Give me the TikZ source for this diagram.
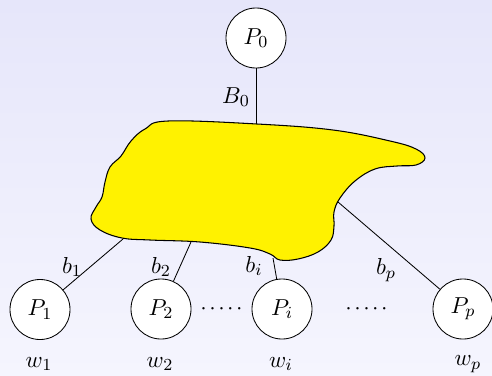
\documentclass[tikz,border=0pt]{standalone}
\definecolor{bgtop}{RGB}{230,230,250}
\definecolor{bgbot}{RGB}{245,245,254}
\begin{document}
\begin{tikzpicture}[x=0.016667cm,y=-0.016667cm,
  proc/.style={circle,draw=black,fill=white,minimum size=1cm,inner sep=0pt,font=\fontsize{11}{13}\selectfont},
  lab/.style={inner sep=0pt,font=\fontsize{11}{13}\selectfont},
  link/.style={draw=black,line width=0.4pt}]
\shade[top color=bgtop,bottom color=bgbot] (0,0) rectangle (492,375);
\useasboundingbox (0,0) rectangle (492,375);
% connectors (under the blob)
\coordinate (c0) at (256,126);
\coordinate (c1) at (123,239);
\coordinate (c2) at (191,242);
\coordinate (ci) at (273,258);
\coordinate (cp) at (338,202);
\node[proc] (P0) at (256,38) {$P_0$};
\node[proc] (P1) at (40,309.5) {$P_1$};
\node[proc] (P2) at (161,309) {$P_2$};
\node[proc] (Pi) at (282,309) {$P_i$};
\node[proc] (Pp) at (463,309) {$P_p$};
\draw[link] (P0) -- (c0);
\draw[link] (c1) -- (P1);
\draw[link] (c2) -- (P2);
\draw[link] (ci) -- (Pi);
\draw[link] (cp) -- (Pp);
% blob
\draw[fill=yellow,line width=0.5pt] plot[smooth cycle,tension=0.65] coordinates {
 (168,121) (257,124) (333,130) (390,141) (416,149) (425,158) (416,165) (397,166)
 (375,169) (355,181) (340,198) (334,212) (334,226) (331,240) (318,252) (298,259)
 (280,260) (270,254) (250,248) (200,242) (150,240) (122,238)
 (100,230) (91,219) (96,207) (102,197) (105,182) (110,167) (121,156) (131,141) (145,129)};
% labels
\node[lab] (lB0) at (236,97) {$B_0$};
\node[lab] (lb1) at (72,267) {$b_1$};
\node[lab] (lb2) at (161,267) {$b_2$};
\node[lab] (lbi) at (254,266) {$b_i$};
\node[lab] (lbp) at (386,270) {$b_p$};
\node[lab] (w1) at (39,364) {$w_1$};
\node[lab] (w2) at (160,364) {$w_2$};
\node[lab] (wi) at (281,364) {$w_i$};
\node[lab] (wp) at (468,364) {$w_p$};
\node[lab] (d1) at (221.5,309) {${\cdot}\mkern2mu{\cdot}\mkern2mu{\cdot}\mkern2mu{\cdot}\mkern2mu{\cdot}$};
\node[lab] (d2) at (366.5,309) {${\cdot}\mkern2mu{\cdot}\mkern2mu{\cdot}\mkern2mu{\cdot}\mkern2mu{\cdot}$};
\end{tikzpicture}
\end{document}
